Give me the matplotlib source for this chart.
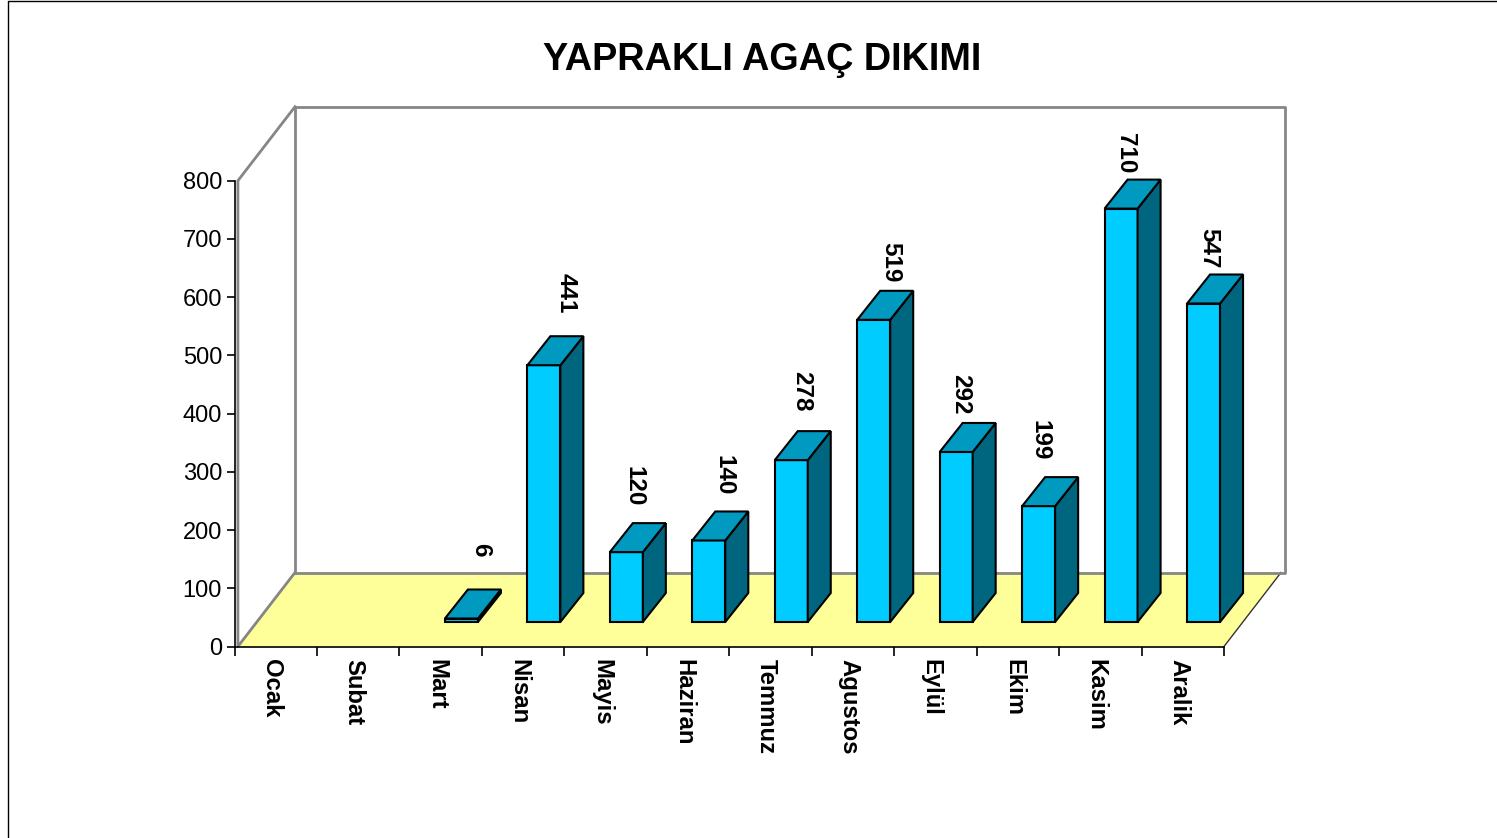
import matplotlib
matplotlib.use("Agg")
import matplotlib.pyplot as plt
from matplotlib.lines import Line2D

plt.rcParams['font.family'] = ['Liberation Sans', 'DejaVu Sans']

# chart values
months = ['Ocak', 'Subat', 'Mart', 'Nisan', 'Mayis', 'Haziran', 'Temmuz',
          'Agustos', 'Eylül', 'Ekim', 'Kasim', 'Aralik']
trees = [0, 0, 6, 441, 120, 140, 278, 519, 292, 199, 710, 547]
y_ticks = [0, 100, 200, 300, 400, 500, 600, 700, 800]

# label placement relative to bar top, pixels
label_dx = [0, 0, 19, 22, 8, 15, 10, 17, 4, 1, 4, 5]
label_dy = [0, 0, 69, 72, 66, 65, 69, 58, 58, 66, 55, 55]

W, H = 1497, 838
fig = plt.figure(figsize=(W / 100, H / 100), dpi=100)

# axes box in pixels
x0, x1 = 234.5, 1224
y0, y1 = 646.5, 180.7
ax = fig.add_axes([x0 / W, 1 - y0 / H, (x1 - x0) / W, (y0 - y1) / H])
ax.patch.set_alpha(0)
ax.set_xlim(0, 12)
ax.set_ylim(0, 800)

px = 12 / (x1 - x0)
py = 800 / (y0 - y1)

# depth of the 3D box and of the bars
wall_dx, wall_dy = 60.5 * px, 74 * py
bar_dx, bar_dy = 23 * px, 29 * py
base = 24.5 * py
bar_left = 45.5 * px
bar_w = 33 * px

front = '#00CCFF'
top = '#0099C0'
side = '#006680'
grey = '#868686'

# floor and walls
ax.fill([3.4 * px, wall_dx, 12 + 57 * px, 12], [0, wall_dy, wall_dy, 0],
        color='#FFFF99', lw=0, clip_on=False, zorder=1)
ax.plot([12, 12 + 57 * px], [0, wall_dy], color='#333333', lw=1, clip_on=False, zorder=1.5)
ax.plot([wall_dx, wall_dx, 12 + 61 * px, 12 + 61 * px, wall_dx],
        [wall_dy, 800 + wall_dy, 800 + wall_dy, wall_dy, wall_dy],
        color=grey, lw=2, clip_on=False, zorder=2)
ax.plot([wall_dx, 3.4 * px, 3.4 * px, wall_dx],
        [800 + wall_dy, 800, 0, wall_dy], color=grey, lw=2, clip_on=False, zorder=2)

for i, v in enumerate(trees):
    if v == 0:
        continue
    l = i + bar_left
    r = l + bar_w
    t = base + v
    ax.bar(l, v, bar_w, bottom=base, align='edge', color=front, edgecolor='black',
           linewidth=1.5, clip_on=False, zorder=3)
    ax.fill([r, r + bar_dx, r + bar_dx, r], [base, base + bar_dy, t + bar_dy, t],
            facecolor=side, edgecolor='black', linewidth=1.5, clip_on=False, zorder=3)
    ax.fill([l, l + bar_dx, r + bar_dx, r], [t, t + bar_dy, t + bar_dy, t],
            facecolor=top, edgecolor='black', linewidth=1.5, clip_on=False, zorder=3)
    ax.annotate(str(v), xy=((l + r) / 2, t), xycoords='data',
                xytext=(label_dx[i] * 0.72, label_dy[i] * 0.72), textcoords='offset points',
                rotation=270, ha='center', va='center', fontsize=17.5, fontweight='bold',
                zorder=4)

# axes, ticks
for s in ['top', 'right']:
    ax.spines[s].set_visible(False)
for s in ['left', 'bottom']:
    ax.spines[s].set_linewidth(1.2)
    ax.spines[s].set_zorder(2.5)

ax.set_yticks(y_ticks)
ax.set_yticklabels([str(t) for t in y_ticks], fontsize=17, va='center_baseline')
ax.tick_params(axis='y', length=6, width=1.2, pad=3)
ax.set_xticks(range(13))
ax.set_xticklabels([])
ax.tick_params(axis='x', which='major', length=6.5, width=1.2)
ax.set_xticks([i + 0.45 for i in range(12)], minor=True)
ax.set_xticklabels(months, minor=True, rotation=270, fontsize=17.2, fontweight='bold')
ax.tick_params(axis='x', which='minor', length=0, pad=9)

fig.text(762.5 / W, 1 - 60.5 / H, 'YAPRAKLI AGAÇ DIKIMI', ha='center', va='center',
         fontsize=27.3, fontweight='bold')

# slide border
fig.add_artist(Line2D([7.5 / W, 7.5 / W, 1], [0, 1 - 1.5 / H, 1 - 1.5 / H], color='black', lw=1))

fig.savefig('out.png', dpi=100)
